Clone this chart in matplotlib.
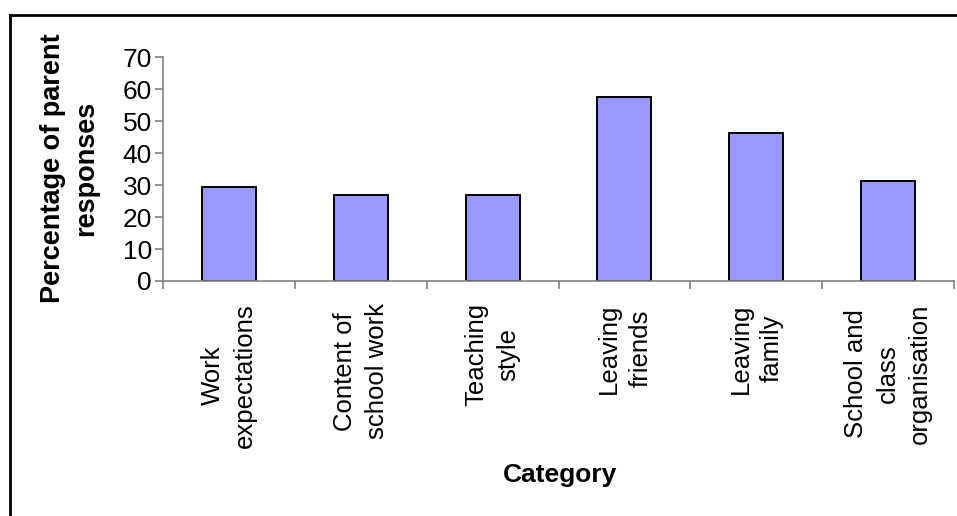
import numpy as np
import matplotlib.pyplot as plt
from matplotlib.lines import Line2D

categories = ['Work\nexpectations', 'Content of\nschool work', 'Teaching\nstyle',
              'Leaving\nfriends', 'Leaving\nfamily', 'School and\nclass\norganisation']
percent = [29.5, 26.9, 26.9, 57.6, 46.3, 31.3]
y_ticks = [0, 10, 20, 30, 40, 50, 60, 70]

plt.rcParams['font.family'] = ['Liberation Sans', 'DejaVu Sans']

W, H = 957, 516
fig = plt.figure(figsize=(W / 100, H / 100), dpi=100)
ax = fig.add_axes([163 / W, 1 - 281 / H, (954 - 163) / W, (281 - 57.3) / H])

centers = np.arange(len(categories)) + 0.5
ax.bar(centers, percent, width=0.41, color='#9999ff', edgecolor='black', linewidth=1.4)

ax.set_xlim(0, len(categories))
ax.set_ylim(0, 70)
ax.set_yticks(y_ticks)
ax.set_yticklabels([str(t) for t in y_ticks], fontsize=19)
ax.set_xticks(np.arange(len(categories) + 1))
ax.set_xticklabels([])
ax.set_xticks(centers, minor=True)
ax.set_xticklabels(categories, minor=True, rotation=90, ha='center', va='top',
                   multialignment='center', fontsize=18.5, linespacing=1.4)
ax.tick_params(axis='x', which='minor', length=0, pad=16)
ax.tick_params(axis='both', which='major', direction='out', length=6, width=1.2,
               color='#808080', pad=2)

for s in ['top', 'right']:
    ax.spines[s].set_visible(False)
for s in ['left', 'bottom']:
    ax.spines[s].set_color('#808080')
    ax.spines[s].set_linewidth(1.2)

fig.text(70 / W, 1 - 168 / H, 'Percentage of parent\nresponses', rotation=90,
         ha='center', va='center', fontsize=19.5, fontweight='bold', linespacing=1.35)
fig.text(560 / W, 1 - 475 / H, 'Category', ha='center', va='center',
         fontsize=19, fontweight='bold')

# frame around the chart area (only top and left visible in the crop)
fig.add_artist(Line2D([10 / W, 1], [1 - 15 / H, 1 - 15 / H], color='black', lw=2,
                      transform=fig.transFigure))
fig.add_artist(Line2D([10 / W, 10 / W], [1 - 15 / H, 0], color='black', lw=2,
                      transform=fig.transFigure))

fig.savefig('out.png', dpi=100)
